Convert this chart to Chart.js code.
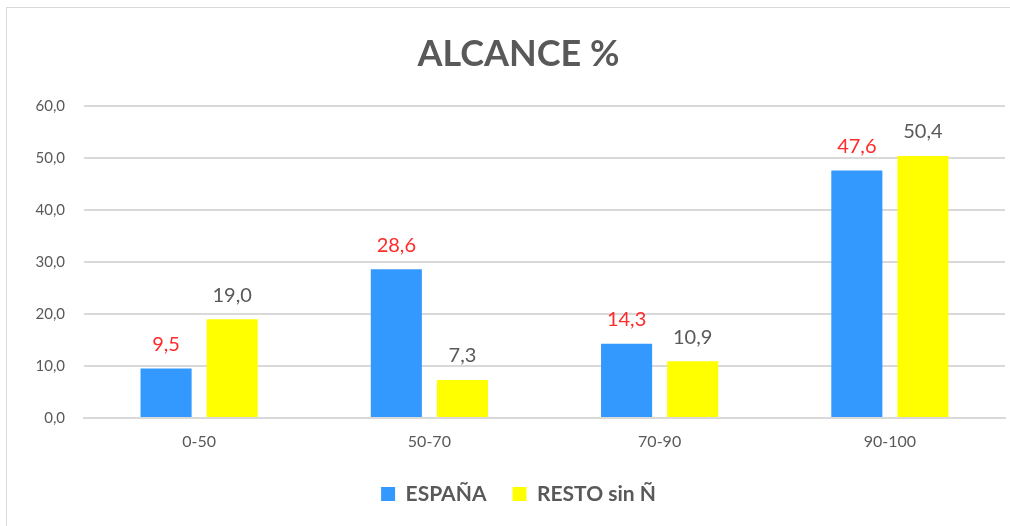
<!DOCTYPE html>
<html>
<head>
<meta charset="utf-8">
<script src="https://cdn.jsdelivr.net/npm/chart.js@4/dist/chart.umd.min.js"></script>
<style>
  html, body { margin: 0; padding: 0; background: #fff; }
  #wrap { position: relative; width: 1010px; height: 526px; overflow: hidden; }
  #frame { position: absolute; left: 6px; top: 7px; width: 1020px; height: 540px; border: 1px solid #d9d9d9; box-sizing: border-box; }
  canvas { position: absolute; left: 0; top: 0; }
</style>
</head>
<body>
<div id="wrap">
  <div id="frame"></div>
  <canvas id="c" width="1010" height="526"></canvas>
</div>
<script>
const categories = ['0-50', '50-70', '70-90', '90-100'];
const espana = [9.5, 28.6, 14.3, 47.6];
const resto = [19.0, 7.3, 10.9, 50.4];
const seriesNames = ['ESPAÑA', 'RESTO sin Ñ'];
const yTicks = [0, 10, 20, 30, 40, 50, 60];

const fmt = v => v.toFixed(1).replace('.', ',');
const FONT = 'Lato, "Open Sans", sans-serif';

const labelPlugin = {
  id: 'valueLabels',
  afterDatasetsDraw(chart) {
    const ctx = chart.ctx;
    ctx.save();
    ctx.font = '20px ' + FONT;
    ctx.textAlign = 'center';
    ctx.textBaseline = 'middle';
    chart.data.datasets.forEach((ds, i) => {
      const meta = chart.getDatasetMeta(i);
      ctx.fillStyle = ds.labelColor;
      meta.data.forEach((bar, j) => {
        ctx.fillText(fmt(ds.data[j]), bar.x, bar.y - 24);
      });
    });
    ctx.restore();
  }
};

new Chart(document.getElementById('c'), {
  type: 'bar',
  data: {
    labels: categories,
    datasets: [
      { label: seriesNames[0], data: espana, backgroundColor: '#3399FF', labelColor: '#FF2A2A',
        categoryPercentage: 0.574, barPercentage: 0.773 },
      { label: seriesNames[1], data: resto, backgroundColor: '#FFFF00', labelColor: '#595959',
        categoryPercentage: 0.574, barPercentage: 0.773 }
    ]
  },
  options: {
    responsive: false,
    animation: false,
    layout: { padding: { left: 32, right: 5, top: 0, bottom: 11.5 } },
    plugins: {
      title: {
        display: true,
        text: 'ALCANCE %',
        color: '#595959',
        font: { family: FONT, size: 36, weight: 'bold', lineHeight: 1.2 },
        padding: { top: 32.4, bottom: 30.4 }
      },
      legend: {
        position: 'bottom',
        labels: {
          color: '#595959',
          boxWidth: 14,
          boxHeight: 14,
          padding: 26,
          font: { family: FONT, size: 21, weight: 'bold' }
        }
      },
      tooltip: { enabled: false }
    },
    scales: {
      x: {
        grid: { display: false, drawTicks: false },
        border: { display: true, color: '#d9d9d9', width: 2 },
        ticks: { color: '#595959', padding: 14, font: { family: FONT, size: 16 } },
        afterFit: s => { s.height = 39.5; }
      },
      y: {
        min: 0, max: 60,
        afterBuildTicks: s => { s.ticks = yTicks.map(v => ({ value: v })); },
        grid: { color: '#d9d9d9', lineWidth: 2, drawTicks: false },
        border: { display: false },
        ticks: { color: '#595959', padding: 19, font: { family: FONT, size: 15 }, callback: v => fmt(v) },
        afterFit: s => { s.width = 52; }
      }
    }
  },
  plugins: [labelPlugin]
});
</script>
</body>
</html>
